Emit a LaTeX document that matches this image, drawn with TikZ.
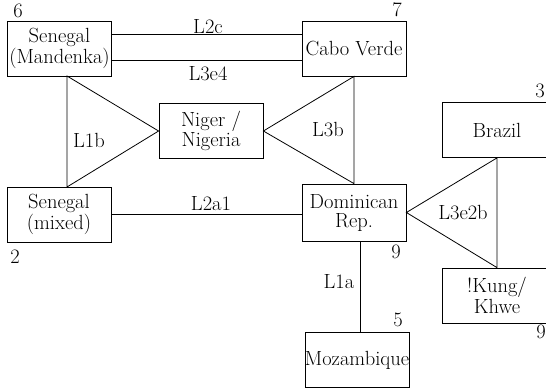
\documentclass[tikz,border=0pt]{standalone}
\usepackage{fontspec}

\begin{document}
\begin{tikzpicture}[
    x = 1pt, y = -1pt,
    every node/.style = { font = \fontsize{20.5}{19}\selectfont },
    country/.style = {
      draw, line width = 0.8pt, align = center, inner sep = 0pt,
      minimum width = 104pt, minimum height = 55pt
    },
    link/.style = { line width = 0.8pt },
    count/.style = { inner sep = 0pt }
  ]
  \useasboundingbox (0, 0) rectangle (546, 388);

  \node[country] (senMand) at (59.5, 48.5) {Senegal\\(Mandenka)};
  \node[country] (cabo) at (354, 48.5) {Cabo Verde};
  \node[country] (niger) at (211, 131) {Niger /\\Nigeria};
  \node[country] (senMix) at (59, 214.5) {Senegal\\(mixed)};
  \node[country, minimum height = 57pt] (domRep) at (354, 212.5)
    {Dominican\\Rep.};
  \node[country, minimum width = 102pt] (moz) at (357, 360) {Mozambique};
  \node[country, minimum width = 110pt] (brazil) at (497, 130) {Brazil};
  \node[country, minimum width = 110pt] (kung) at (497, 295.5)
    {!Kung/\\Khwe};

  \coordinate (l1bTop) at (67, 76);
  \coordinate (l1bBot) at (67, 187);

  \draw[link] ([yshift = 14.5pt]senMand.east) -- ([yshift = 14.5pt]cabo.west);
  \draw[link] ([yshift = -11.5pt]senMand.east) -- ([yshift = -11.5pt]cabo.west);
  \draw[link] (senMix.east) -- (senMix.east -| domRep.west);
  \draw[link] ([xshift = 6pt]domRep.south) -- ([xshift = 3pt]moz.north);
  \draw[link] (l1bTop) -- (niger.west) -- (l1bBot) -- cycle;
  \draw[link] (cabo.south) -- (niger.east) -- (domRep.north) -- cycle;
  \draw[link] (brazil.south) -- (domRep.east) -- (kung.north) -- cycle;

  \node (l2c) at (208, 27) {L2c};
  \node (l3e4) at (208, 74) {L3e4};
  \node (l1b) at (89, 140) {L1b};
  \node (l3b) at (328, 130) {L3b};
  \node (l2a1) at (211, 204) {L2a1};
  \node (l3e2b) at (463, 213) {L3e2b};
  \node (l1a) at (339, 282) {L1a};

  \foreach \n/\x/\y in {6/18/11, 7/397/10, 3/540/91, 2/15/257,
                        9/396/252, 5/398/320, 9/541/332}
    \node[count] at (\x, \y) {\n};
\end{tikzpicture}
\end{document}
